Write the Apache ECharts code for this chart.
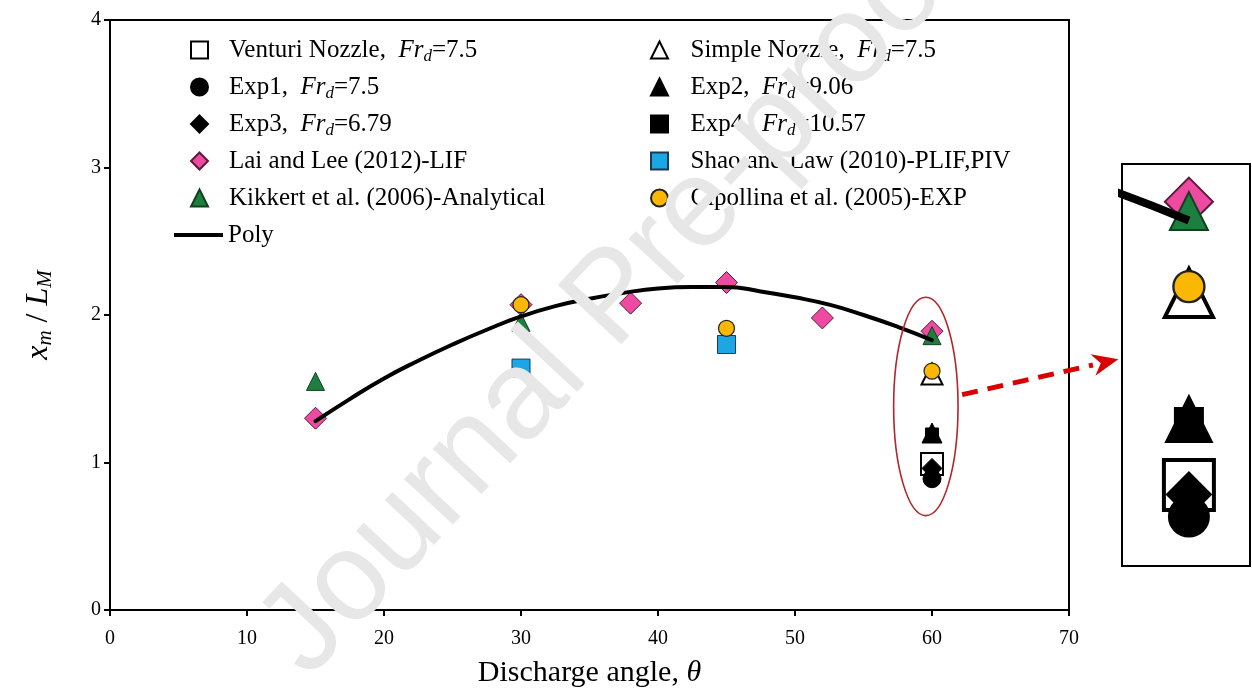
<!DOCTYPE html>
<html><head><meta charset="utf-8">
<script src="https://cdn.jsdelivr.net/npm/echarts@6/dist/echarts.min.js"></script>
<style>html,body{margin:0;padding:0;background:#fff}#c{width:1252px;height:691px}</style>
</head><body><div id="c"></div>
<script>
// ---- data ----
const xTickValues = [0, 10, 20, 30, 40, 50, 60, 70];
const yTickValues = [0, 1, 2, 3, 4];
const venturiData   = [[60, 0.99]];
const simpleData    = [[60, 1.60]];
const exp1Data      = [[60, 0.89]];
const exp2Data      = [[60, 1.20]];
const exp3Data      = [[60, 0.96]];
const exp4Data      = [[60, 1.19]];
const laiLeeData    = [[15, 1.30], [30, 2.07], [38, 2.08], [45, 2.22], [52, 1.98], [60, 1.89]];
const shaoLawData   = [[30, 1.64], [45, 1.80]];
const kikkertData   = [[15, 1.55], [30, 1.95], [60, 1.86]];
const cipollinaData = [[30, 2.07], [45, 1.91], [60, 1.62]];
const polyX = [15, 17.5, 20, 22.5, 25, 27.5, 30, 32.5, 35, 37.5, 40, 42.5, 45, 47.5, 50, 52.5, 55, 57.5, 60];
const polyY = [1.28, 1.43, 1.57, 1.69, 1.80, 1.90, 1.99, 2.06, 2.11, 2.15, 2.18, 2.19, 2.19, 2.16, 2.12, 2.07, 2.00, 1.92, 1.83];

// ---- series styling ----
const specs = [
  {name: 'Venturi Nozzle', data: venturiData, symbol: 'rect', size: 22, inset: 50, fill: '#ffffff', border: '#000', bw: 2},
  {name: 'Simple Nozzle', data: simpleData, symbol: 'triangle', size: 21, inset: 48, fill: '#ffffff', border: '#000', bw: 2},
  {name: 'Exp1', data: exp1Data, symbol: 'circle', size: 18, inset: 40, fill: '#000', border: '#000', bw: 1},
  {name: 'Exp2', data: exp2Data, symbol: 'triangle', size: 20, inset: 46, fill: '#000', border: '#000', bw: 1},
  {name: 'Exp3', data: exp3Data, symbol: 'diamond', size: 20, inset: 44, fill: '#000', border: '#000', bw: 1},
  {name: 'Exp4', data: exp4Data, symbol: 'rect', size: 13, inset: 28, fill: '#000', border: '#000', bw: 1},
  {name: 'Lai and Lee (2012)-LIF', data: laiLeeData, symbol: 'diamond', size: 22, inset: 48, fill: '#ee4aa2', border: '#5a1a3a', bw: 1},
  {name: 'Shao and Law (2010)-PLIF,PIV', data: shaoLawData, symbol: 'rect', size: 18, inset: 40, fill: '#1aa7e3', border: '#1a3a55', bw: 1},
  {name: 'Kikkert et al. (2006)-Analytical', data: kikkertData, symbol: 'triangle', size: 18, inset: 38, fill: '#1d7f3f', border: '#12401f', bw: 1},
  {name: 'Cipollina et al. (2005)-EXP', data: cipollinaData, symbol: 'circle', size: 16, inset: 31, fill: '#fbb803', border: '#222', bw: 1.2}
];

const legendLabels = {
  'Venturi Nozzle': '{t|Venturi Nozzle,  }{i|Fr}{s|d}{t|=7.5}',
  'Simple Nozzle': '{t|Simple Nozzle,  }{i|Fr}{s|d}{t|=7.5}',
  'Exp1': '{t|Exp1,  }{i|Fr}{s|d}{t|=7.5}',
  'Exp2': '{t|Exp2,  }{i|Fr}{s|d}{t|=9.06}',
  'Exp3': '{t|Exp3,  }{i|Fr}{s|d}{t|=6.79}',
  'Exp4': '{t|Exp4,  }{i|Fr}{s|d}{t|=10.57}'
};

const serif = '"Liberation Serif", "Times New Roman", serif';
function makeRich(gap) {
  return {
    g: {width: gap, fontSize: 25, lineHeight: 30},
    t: {fontFamily: serif, fontSize: 25, lineHeight: 30, color: '#000'},
    i: {fontFamily: serif, fontSize: 25, fontStyle: 'italic', lineHeight: 30, color: '#000'},
    s: {fontFamily: serif, fontSize: 17, fontStyle: 'italic', lineHeight: 10, verticalAlign: 'bottom', color: '#000'}
  };
}

const polyData = polyX.map((x, i) => [x, polyY[i]]);

const series = [];
specs.forEach(s => {
  series.push({
    name: s.name, type: 'scatter', xAxisIndex: 0, yAxisIndex: 0,
    data: s.data, symbol: s.symbol, symbolSize: s.size,
    itemStyle: {color: s.fill, borderColor: s.border, borderWidth: s.bw, opacity: 1},
    emphasis: {disabled: true}, z: 3
  });
});
series.push({
  name: 'Poly', type: 'line', xAxisIndex: 0, yAxisIndex: 0, data: polyData,
  smooth: 0.5, showSymbol: false, symbol: 'none',
  lineStyle: {color: '#000', width: 4, cap: 'round'}, itemStyle: {color: '#000'}, z: 5
});
specs.forEach(s => {
  series.push({
    name: s.name + ' (inset)', type: 'scatter', xAxisIndex: 1, yAxisIndex: 1,
    data: s.data, symbol: s.symbol, symbolSize: s.inset,
    itemStyle: {color: s.fill, borderColor: s.border, borderWidth: s.bw * 2, opacity: 1},
    emphasis: {disabled: true}, z: 3
  });
});
series.push({
  name: 'Poly (inset)', type: 'line', xAxisIndex: 1, yAxisIndex: 1, data: polyData,
  smooth: 0.5, showSymbol: false, symbol: 'none', clip: true,
  lineStyle: {color: '#000', width: 8, cap: 'butt'}, z: 5
});

const chart = echarts.init(document.getElementById('c'), null, {renderer: 'canvas'});

function legendBase(gap) {
  return {
    orient: 'vertical', itemWidth: 17, itemHeight: 17, itemGap: 7,
    selectedMode: false,
    textStyle: {fontFamily: serif, fontSize: 25, color: '#000', lineHeight: 30, rich: makeRich(gap)},
    formatter: n => '{g| }' + (legendLabels[n] ? legendLabels[n] : '{t|' + n + '}')
  };
}

const legTop = 30;
chart.setOption({
  animation: false,
  backgroundColor: '#ffffff',
  grid: [
    {left: 110, right: 183, top: 20, bottom: 81, show: true, borderColor: '#000', borderWidth: 2,
     backgroundColor: 'transparent', containLabel: false, outerBoundsMode: 'none'},
    {left: 1122, width: 128, top: 164, height: 402, show: true, borderColor: '#000', borderWidth: 2,
     backgroundColor: '#fff', containLabel: false, outerBoundsMode: 'none'}
  ],
  xAxis: [
    {type: 'value', gridIndex: 0, min: xTickValues[0], max: xTickValues[xTickValues.length - 1], interval: 10,
     name: '{n|Discharge angle, }{i|θ}', nameLocation: 'middle', nameGap: 48,
     nameTextStyle: {rich: {n: {fontFamily: serif, fontSize: 30, color: '#000'}, i: {fontFamily: serif, fontSize: 30, fontStyle: 'italic', color: '#000'}}},
     axisLine: {show: true, lineStyle: {color: '#000', width: 2}},
     axisTick: {show: true, length: 6, lineStyle: {color: '#000', width: 2}},
     axisLabel: {fontFamily: serif, fontSize: 20, color: '#000', margin: 19},
     splitLine: {show: false}},
    {type: 'value', gridIndex: 1, min: 57.7, max: 62.1, show: false, splitLine: {show: false}}
  ],
  yAxis: [
    {type: 'value', gridIndex: 0, min: yTickValues[0], max: yTickValues[yTickValues.length - 1], interval: 1,
     name: '{i|x}{s|m}{n| / }{i|L}{s|M}', nameLocation: 'middle', nameGap: 54,
     nameTextStyle: {rich: {
       i: {fontFamily: serif, fontSize: 32, fontStyle: 'italic', color: '#000', lineHeight: 34},
       n: {fontFamily: serif, fontSize: 32, color: '#000', lineHeight: 34},
       s: {fontFamily: serif, fontSize: 21, fontStyle: 'italic', color: '#000', lineHeight: 12, verticalAlign: 'bottom'}}},
     axisLine: {show: true, lineStyle: {color: '#000', width: 2}},
     axisTick: {show: true, length: 6, lineStyle: {color: '#000', width: 2}},
     axisLabel: {fontFamily: serif, fontSize: 20, color: '#000', margin: 9},
     splitLine: {show: false}},
    {type: 'value', gridIndex: 1, min: 0.733, max: 2.0095, show: false, splitLine: {show: false}}
  ],
  legend: [
    Object.assign(legendBase(16), {left: 185, top: legTop,
      data: ['Venturi Nozzle', 'Exp1', 'Exp3', 'Lai and Lee (2012)-LIF', 'Kikkert et al. (2006)-Analytical']}),
    Object.assign(legendBase(17.5), {left: 645, top: legTop,
      data: ['Simple Nozzle', 'Exp2', 'Exp4', 'Shao and Law (2010)-PLIF,PIV', 'Cipollina et al. (2005)-EXP']}),
    Object.assign(legendBase(0), {left: 169, top: legTop + 5 * 37, itemWidth: 49, itemHeight: 4,
      data: [{name: 'Poly', icon: 'rect'}]})
  ],
  series: series
});

// ---- annotations: ellipse around 60°, dashed arrow, watermark ----
const toPx = p => chart.convertToPixel({gridIndex: 0}, p);
const c0 = toPx([59.55, 1.38]);
const cx1 = toPx([59.55 + 2.35, 1.38]);
const cy1 = toPx([59.55, 1.38 + 0.74]);
const a0 = toPx([62.2, 1.46]);
const a1 = toPx([73.6, 1.70]);
const dx = a1[0] - a0[0], dy = a1[1] - a0[1];
const len = Math.sqrt(dx * dx + dy * dy);
const ux = dx / len, uy = dy / len;
const headL = 26, headW = 11;
const base = [a1[0] - ux * headL, a1[1] - uy * headL];
const back = [a1[0] - ux * (headL - 8), a1[1] - uy * (headL - 8)];

chart.setOption({
  graphic: [
    {type: 'ellipse', z: 50, silent: true,
     shape: {cx: c0[0], cy: c0[1], rx: Math.abs(cx1[0] - c0[0]), ry: Math.abs(cy1[1] - c0[1])},
     style: {fill: 'none', stroke: '#b3262b', lineWidth: 1.6}},
    {type: 'line', z: 50, silent: true,
     shape: {x1: a0[0], y1: a0[1], x2: base[0], y2: base[1]},
     style: {stroke: '#d90000', lineWidth: 5, lineDash: [16, 10]}},
    {type: 'polygon', z: 50, silent: true,
     shape: {points: [a1, [base[0] - uy * headW, base[1] + ux * headW], back, [base[0] + uy * headW, base[1] - ux * headW]]},
     style: {fill: '#d90000'}},
    {type: 'text', z: 100, silent: true, x: 615, y: 300, rotation: 47 * Math.PI / 180,
     style: {text: 'Journal Pre-proof', fontFamily: '"Liberation Sans", Arial, sans-serif', fontSize: 126,
             fill: '#e7e7e7', align: 'center', verticalAlign: 'middle'}}
  ]
});
</script>
</body></html>
